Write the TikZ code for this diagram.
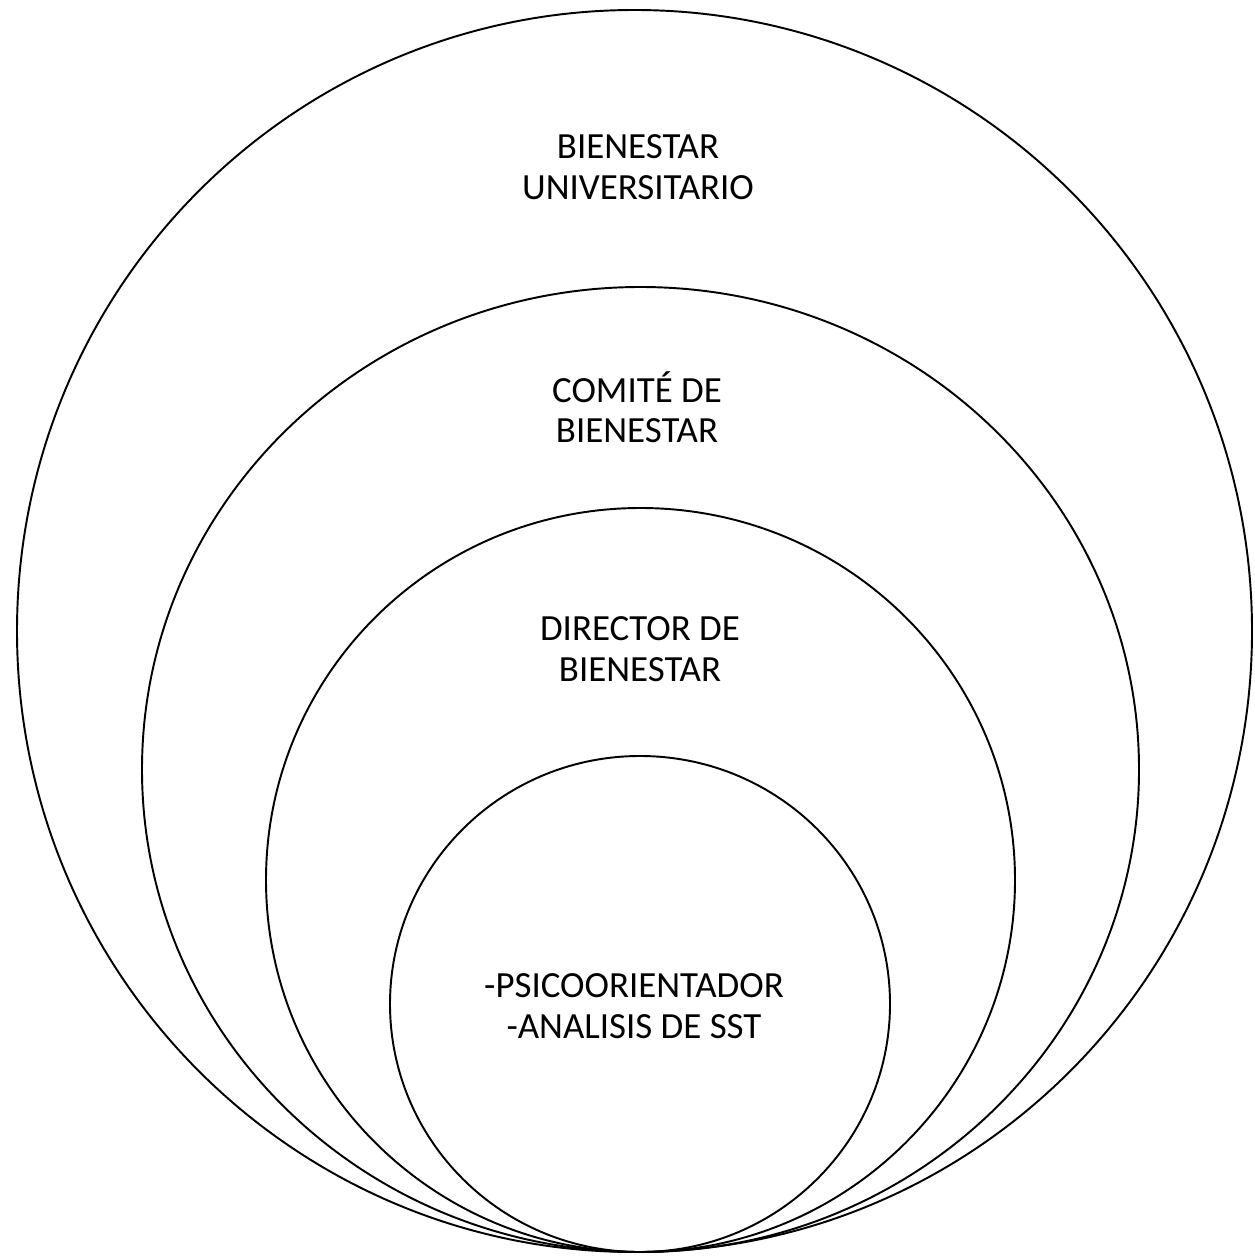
\documentclass[tikz,border=0pt]{standalone}
\usepackage{fontspec}
\setmainfont{Carlito}
\usepackage{tikz}
\usetikzlibrary{positioning}

\begin{document}
\begin{tikzpicture}[
    x=0.02cm, y=-0.02cm,
    ring/.style={draw, line width=1.1pt},
    ringtext/.style={align=center, font=\fontsize{21}{23}\selectfont, inner sep=0pt}
]
    \useasboundingbox (0,0) rectangle (1254,1256);
    \draw[ring] (634.5,631) ellipse [x radius=617.5, y radius=621];
    \draw[ring] (640.5,769.5) ellipse [x radius=498.5, y radius=482.5];
    \draw[ring] (640.5,880) ellipse [x radius=374.5, y radius=372];
    \draw[ring] (640,1004) ellipse [x radius=250, y radius=248];

    \node[ringtext] (univ) at (638,167) {BIENESTAR\\UNIVERSITARIO};
    \node[ringtext] (comite) at (637,407) {COMITÉ DE\\BIENESTAR};
    \node[ringtext] (director) at (640,649) {DIRECTOR DE\\BIENESTAR};
    \node[ringtext] (psico) at (634,1006) {-PSICOORIENTADOR\\-ANALISIS DE SST};
\end{tikzpicture}
\end{document}
